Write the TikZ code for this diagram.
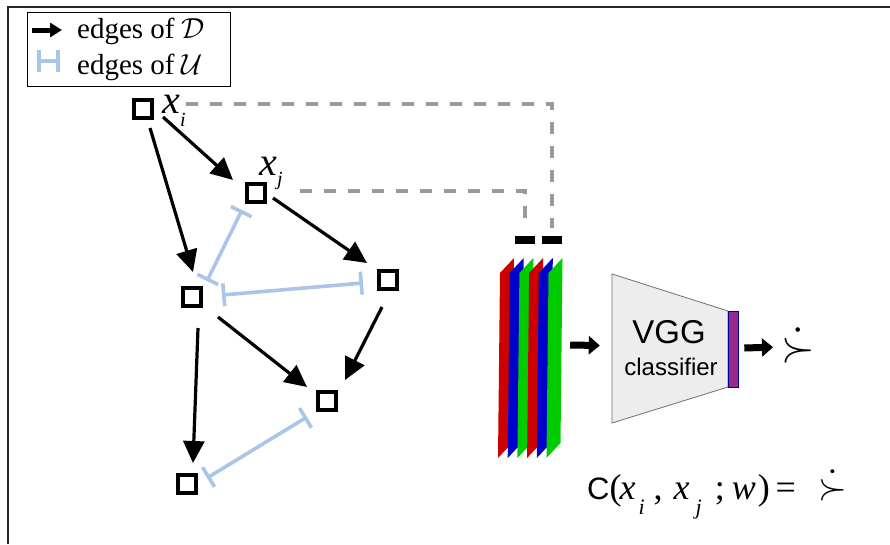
\documentclass[tikz,border=0pt]{standalone}
\usepackage{fontspec}
\setmainfont{Liberation Serif}
\setsansfont{Liberation Sans}
\usetikzlibrary{arrows.meta}
\definecolor{ublue}{HTML}{A9C5E8}
\definecolor{dgrey}{HTML}{9A9A9A}
\definecolor{vggfill}{HTML}{EDEDED}
\definecolor{vggline}{HTML}{707070}
\definecolor{purp}{HTML}{962A8C}
\definecolor{pred}{HTML}{CC0000}
\definecolor{pblue}{HTML}{0000CC}
\definecolor{pgreen}{HTML}{00CC00}
\newcommand{\bigmath}[2]{{\normalsize\scalebox{#1}{$#2$}}}
\newcommand{\lowsub}[1]{\raisebox{-15pt}{\fontsize{22}{22}\selectfont\textit{#1}}}
\tikzset{
  gbox/.style={draw, line width=3.6pt, minimum size=18pt, inner sep=0pt},
  darr/.style={line width=3.2pt, -{Triangle[length=22pt,width=21pt]}},
  uedge/.style={draw=ublue, line width=3.6pt, {Bar[width=23pt]}-{Bar[width=23pt]}},
  dashgrey/.style={draw=dgrey, line width=4pt, dash pattern=on 12pt off 12pt},
  fatarrow/.style={line width=7pt, -{Triangle[length=11pt,width=18pt]}},
  blackbar/.style={fill=black, minimum width=20pt, minimum height=8pt, inner sep=0pt},
  xlab/.style={anchor=base west, inner sep=0pt, font=\fontsize{40}{40}\selectfont\itshape},
  sublab/.style={anchor=base west, inner sep=0pt, font=\fontsize{20}{20}\selectfont\itshape},
  legtext/.style={anchor=base west, inner sep=0pt, font=\fontsize{29}{29}\selectfont},
}
\begin{document}
\begin{tikzpicture}[x=1pt,y=-1pt]
\useasboundingbox (0,0) rectangle (890,544);
% frame
\draw[line width=1.5pt, black!85] (8,544) -- (8,7) -- (890,7);

% legend
\node[draw, line width=0.8pt, minimum width=203pt, minimum height=74pt, anchor=north west, inner sep=0pt] (legend) at (27,12) {};
\coordinate (legA) at (32,30);
\coordinate (legB) at (62,30);
\draw[line width=5pt, -{Triangle[length=12pt,width=14pt]}] (legA) -- (legB);
\coordinate (legC) at (37,61);
\coordinate (legD) at (60,61);
\draw[draw=ublue, line width=4pt, {Bar[width=22pt]}-{Bar[width=22pt]}] (legC) -- (legD);
\node[legtext] (legt1) at (77,38) {edges of \bigmath{2.9}{\mathcal{D}}};
\node[legtext] (legt2) at (77,74) {edges of \bigmath{2.9}{\mathcal{U}}};

% graph nodes
\node[gbox] (xi) at (143,109) {};
\node[gbox] (xj) at (256,193) {};
\node[gbox] (lm) at (192,297) {};
\node[gbox] (rt) at (388,280) {};
\node[gbox] (ml) at (327,401) {};
\node[gbox] (bl) at (187,484) {};

\node[xlab] (xilab) at (162,113) {x};
\node[sublab] (xisub) at (180,126) {i};
\node[xlab] (xjlab) at (259,175) {x};
\node[sublab] (xjsub) at (277,185) {j};

% D edges
\draw[darr] ([shift={(7,19)}]xi.center) -- ([shift={(1,-25)}]lm.center);
\draw[darr] ([shift={(20,8)}]xi.center) -- ([shift={(-23,-13)}]xj.center);
\draw[darr] ([shift={(17,5)}]xj.center) -- ([shift={(-21,-17)}]rt.center);
\draw[darr] ([shift={(26,20)}]lm.center) -- ([shift={(-20,-14)}]ml.center);
\draw[darr] ([shift={(-6,27)}]rt.center) -- ([shift={(18,-21)}]ml.center);
\draw[darr] ([shift={(6,31)}]lm.center) -- ([shift={(6,-21)}]bl.center);

% U edges
\draw[uedge] ([shift={(15,-16)}]lm.center) -- ([shift={(-14,17)}]xj.center);
\draw[uedge] ([shift={(30,-2)}]lm.center) -- ([shift={(-25,3)}]rt.center);
\draw[uedge] ([shift={(20,-6)}]bl.center) -- ([shift={(-20,16)}]ml.center);

% black bars and dashed links
\node[blackbar] (bar1) at (525,240) {};
\node[blackbar] (bar2) at (552,240) {};
\coordinate (d1) at (186,104);
\coordinate (d2) at (300,191);
\draw[dashgrey, shorten >=8pt] (d1) -| (bar2);
\draw[dashgrey, shorten >=9pt] (d2) -| (bar1);

% stack of image planes
\foreach \i/\c in {0/pred,1/pblue,2/pgreen,3/pred,4/pblue,5/pgreen} {
  \fill[\c] ({498+9.7*\i},458) -- ++(14,-15) -- ++(2,-185) -- ++(-14,15) -- cycle;
}
\node[minimum width=64pt, minimum height=200pt, inner sep=0pt] (stack) at (530,358) {};

% VGG classifier
\fill[vggfill] (612,274) -- (728,311) -- (728,387) -- (612,423) -- cycle;
\draw[vggline, line width=0.8pt] (612,274) -- (728,311) -- (728,387) -- (612,423) -- cycle;
\node[minimum width=116pt, minimum height=149pt, inner sep=0pt] (vggbox) at (670,348.5) {};
\node[draw=blue!60!black, line width=0.6pt, fill=purp, minimum width=10pt, minimum height=76pt, inner sep=0pt] (pb) at (733,349) {};
\node[anchor=base, inner sep=0pt, font=\sffamily\fontsize{33}{33}\selectfont] (vgg) at (669,343) {VGG};
\node[anchor=base, inner sep=0pt, font=\sffamily\fontsize{24}{24}\selectfont] (vggsub) at (671,375) {classifier};

\draw[fatarrow] ([shift={(8,-13)}]stack.east) -- ([shift={(-12,-3)}]vggbox.west);

% output
\node[anchor=base west, inner sep=0pt] (out) at (781,361) {\bigmath{4.3}{\dot{\succ}}};
\draw[fatarrow] ([shift={(6,-1)}]pb.east) -- ([shift={(-8,2)}]out.west);

% formula
\node[anchor=base west, inner sep=0pt, font=\fontsize{36}{36}\selectfont] (formula) at (587,499) {{\sffamily\fontsize{31}{31}\selectfont C}(\hspace{-2pt}\textit{x}\hspace{3pt}\lowsub{i}\hspace{9pt},\hspace{11pt}\textit{x}\hspace{6pt}\lowsub{j}\hspace{13pt};\hspace{7pt}\textit{w}\hspace{2pt})\hspace{6pt}=\hspace{22pt}\bigmath{3.7}{\dot{\succ}}};
\end{tikzpicture}
\end{document}
